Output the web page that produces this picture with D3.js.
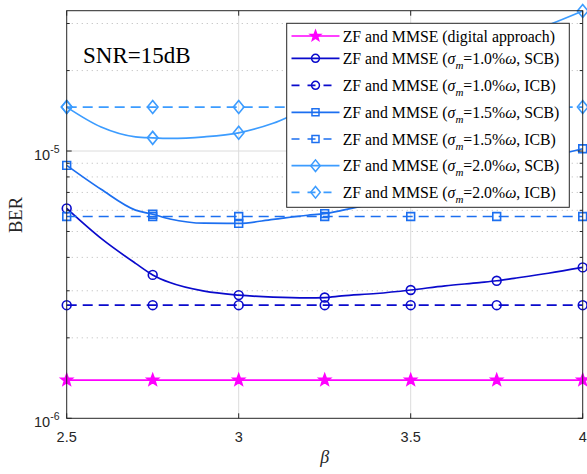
<!DOCTYPE html>
<html><head><meta charset="utf-8">
<script src="https://cdn.jsdelivr.net/npm/d3@7"></script>
<style>body{margin:0;background:#fff}svg{display:block}</style>
</head><body>
<svg id="c" width="587" height="474"></svg>
<script>
// ---- data ----
const xTicks = [2.5, 3, 3.5, 4];
const markerBeta = [2.5, 2.75, 3, 3.25, 3.5, 3.75, 4];
const curveBeta = [2.5, 2.6, 2.7, 2.75, 2.8, 2.9, 3.0, 3.1, 3.2, 3.25, 3.3, 3.4, 3.5, 3.6, 3.7, 3.75, 3.8, 3.9, 4.0];
const digital = [1.39e-6, 1.39e-6, 1.39e-6, 1.39e-6, 1.39e-6, 1.39e-6, 1.39e-6];
const icb10 = [2.65e-6, 2.65e-6, 2.65e-6, 2.65e-6, 2.65e-6, 2.65e-6, 2.65e-6];
const icb15 = [5.69e-6, 5.69e-6, 5.69e-6, 5.69e-6, 5.69e-6, 5.69e-6, 5.69e-6];
const icb20 = [1.46e-5, 1.46e-5, 1.46e-5, 1.46e-5, 1.46e-5, 1.46e-5, 1.46e-5];
const scb10 = [6.10e-6, 4.71e-6, 3.80e-6, 3.44e-6, 3.22e-6, 2.99e-6, 2.89e-6, 2.84e-6, 2.82e-6, 2.83e-6, 2.87e-6, 2.93e-6, 3.02e-6, 3.13e-6, 3.22e-6, 3.27e-6, 3.34e-6, 3.49e-6, 3.67e-6];
const scb15 = [8.84e-6, 7.19e-6, 6.01e-6, 5.80e-6, 5.57e-6, 5.37e-6, 5.36e-6, 5.55e-6, 5.75e-6, 5.83e-6, 6.0e-6, 6.4e-6, 6.95e-6, 7.5e-6, 8.1e-6, 8.45e-6, 8.8e-6, 9.5e-6, 1.02e-5];
const scb20 = [1.46e-5, 1.23e-5, 1.13e-5, 1.12e-5, 1.115e-5, 1.13e-5, 1.17e-5, 1.27e-5, 1.44e-5, 1.51e-5, 1.59e-5, 1.76e-5, 1.95e-5, 2.16e-5, 2.40e-5, 2.52e-5, 2.66e-5, 2.96e-5, 3.34e-5];
const yMajor = [1e-6, 1e-5];
const yMinor = [2e-6, 3e-6, 4e-6, 5e-6, 6e-6, 7e-6, 8e-6, 9e-6, 2e-5, 3e-5];

const series = [
  {beta: markerBeta, y: digital, color: "#ff00ff", dash: null, marker: "star", label: ["digital"]},
  {beta: curveBeta, y: scb10, color: "#0a0acc", dash: null, marker: "circle", label: ["1.0", "SCB"]},
  {beta: markerBeta, y: icb10, color: "#0a0acc", dash: "10,6", marker: "circle", label: ["1.0", "ICB"]},
  {beta: curveBeta, y: scb15, color: "#1c6ff0", dash: null, marker: "square", label: ["1.5", "SCB"]},
  {beta: markerBeta, y: icb15, color: "#1c6ff0", dash: "10,6", marker: "square", label: ["1.5", "ICB"]},
  {beta: curveBeta, y: scb20, color: "#3c9cff", dash: null, marker: "diamond", label: ["2.0", "SCB"]},
  {beta: markerBeta, y: icb20, color: "#3c9cff", dash: "10,6", marker: "diamond", label: ["2.0", "ICB"]}
];

// ---- layout ----
const L = 66.7, R = 582.7, T = 10.7, B = 418.3;
const x = d3.scaleLinear().domain([2.5, 4]).range([L, R]);
const y = d3.scaleLog().domain([1e-6, 3.35e-5]).range([B, T]);
const svg = d3.select("#c");
const axisCol = "#262626";

// grid
const g = svg.append("g");
g.selectAll("line.gx").data(xTicks.slice(1, -1)).join("line")
  .attr("x1", d => x(d)).attr("x2", d => x(d)).attr("y1", T).attr("y2", B)
  .attr("stroke", "#dcdcdc").attr("stroke-width", 1);
g.selectAll("line.gmin").data(yMinor).join("line")
  .attr("x1", L).attr("x2", R).attr("y1", d => y(d)).attr("y2", d => y(d))
  .attr("stroke", "#c4c4c4").attr("stroke-width", 1).attr("stroke-dasharray", "1.2,3.8");
g.selectAll("line.gmaj").data([1e-5]).join("line")
  .attr("x1", L).attr("x2", R).attr("y1", d => y(d)).attr("y2", d => y(d))
  .attr("stroke", "#dcdcdc").attr("stroke-width", 1);

// marker shapes
function markerPath(type, s) {
  if (type === "circle") return d3.symbol(d3.symbolCircle, Math.PI * (4.4*s) * (4.4*s))();
  if (type === "square") { const h = 3.9*s; return `M${-h},${-h}H${h}V${h}H${-h}Z`; }
  if (type === "diamond") { const w = 5.3*s, h = 6.5*s; return `M0,${-h}L${w},0L0,${h}L${-w},0Z`; }
  if (type === "star") {
    const ro = 6*s, ri = 2.5*s; let p = "";
    for (let i = 0; i < 10; i++) {
      const r = i % 2 ? ri : ro, a = -Math.PI/2 + i*Math.PI/5;
      p += (i ? "L" : "M") + (r*Math.cos(a)).toFixed(2) + "," + (r*Math.sin(a)).toFixed(2);
    }
    return p + "Z";
  }
}

// lines
const line = d3.line().x(d => x(d[0])).y(d => y(d[1])).curve(d3.curveMonotoneX);
const lg = svg.append("g");
series.forEach(s => {
  const pts = s.beta.map((b, i) => [b, s.y[i]]);
  lg.append("path").attr("d", line(pts)).attr("fill", "none")
    .attr("stroke", s.color).attr("stroke-width", 1.7)
    .attr("stroke-dasharray", s.dash);
  const mk = pts.filter(p => Math.abs(p[0]*4 - Math.round(p[0]*4)) < 1e-9);
  lg.selectAll(null).data(mk).join("path")
    .attr("transform", d => `translate(${x(d[0])},${y(d[1])})`)
    .attr("d", markerPath(s.marker, 1))
    .attr("fill", s.marker === "star" ? s.color : "none")
    .attr("stroke", s.color).attr("stroke-width", 1.6);
});

// axes box and ticks
const ax = svg.append("g");
ax.append("rect").attr("x", L).attr("y", T).attr("width", R - L).attr("height", B - T)
  .attr("fill", "none").attr("stroke", axisCol).attr("stroke-width", 1);
xTicks.forEach(t => {
  ax.append("line").attr("x1", x(t)).attr("x2", x(t)).attr("y1", B).attr("y2", B - 5).attr("stroke", axisCol);
  ax.append("line").attr("x1", x(t)).attr("x2", x(t)).attr("y1", T).attr("y2", T + 5).attr("stroke", axisCol);
  ax.append("text").attr("x", x(t)).attr("y", 441.5).attr("text-anchor", "middle")
    .attr("font-family", "Liberation Sans, Arial, sans-serif").attr("font-size", 14.5)
    .attr("fill", axisCol).text(t);
});
yMajor.forEach(t => {
  ax.append("line").attr("x1", L).attr("x2", L + 5).attr("y1", y(t)).attr("y2", y(t)).attr("stroke", axisCol);
  ax.append("line").attr("x1", R).attr("x2", R - 5).attr("y1", y(t)).attr("y2", y(t)).attr("stroke", axisCol);
  const tx = ax.append("text").attr("x", 59.5).attr("y", y(t) + 8.5).attr("text-anchor", "end")
    .attr("font-family", "Liberation Sans, Arial, sans-serif").attr("font-size", 14.5).attr("fill", axisCol);
  tx.append("tspan").text("10");
  tx.append("tspan").attr("dy", -7).attr("font-size", 10.5).text(String(Math.round(Math.log10(t))));
});
yMinor.forEach(t => {
  ax.append("line").attr("x1", L).attr("x2", L + 3).attr("y1", y(t)).attr("y2", y(t)).attr("stroke", axisCol);
  ax.append("line").attr("x1", R).attr("x2", R - 3).attr("y1", y(t)).attr("y2", y(t)).attr("stroke", axisCol);
});

// axis labels
svg.append("text").attr("transform", `translate(21.5,215) rotate(-90)`).attr("text-anchor", "middle")
  .attr("font-family", "Liberation Serif, Times New Roman, serif").attr("font-size", 18.5)
  .attr("fill", axisCol).text("BER");
svg.append("text").attr("x", x(3.25)).attr("y", 463).attr("text-anchor", "middle")
  .attr("font-family", "Liberation Serif, Times New Roman, serif").attr("font-style", "italic")
  .attr("font-size", 18).attr("fill", axisCol).text("β");

// annotation
svg.append("text").attr("x", 83).attr("y", 63.3)
  .attr("font-family", "Liberation Serif, Times New Roman, serif").attr("font-size", 23)
  .attr("fill", "#000").text("SNR=15dB");

// legend
const leg = svg.append("g");
leg.append("rect").attr("x", 286.7).attr("y", 23.3).attr("width", 282.6).attr("height", 184)
  .attr("fill", "#fff").attr("stroke", axisCol).attr("stroke-width", 1);
const rowY = [36, 58.3, 85.3, 112.3, 139, 165.7, 192.3];
series.forEach((s, i) => {
  const yy = rowY[i];
  leg.append("line").attr("x1", 291.5).attr("x2", 339.5).attr("y1", yy).attr("y2", yy)
    .attr("stroke", s.color).attr("stroke-width", 1.7).attr("stroke-dasharray", s.dash ? "8,8" : null);
  leg.append("path").attr("transform", `translate(315.5,${yy})`).attr("d", markerPath(s.marker, 0.9))
    .attr("fill", s.marker === "star" ? s.color : "none").attr("stroke", s.color).attr("stroke-width", 1.5);
  const t = leg.append("text").attr("x", 342.7).attr("y", yy + 5.5)
    .attr("font-family", "Liberation Serif, Times New Roman, serif").attr("font-size", 15.8).attr("fill", "#000");
  if (s.label[0] === "digital") {
    t.text("ZF and MMSE (digital approach)");
  } else {
    t.append("tspan").text("ZF and MMSE (");
    t.append("tspan").attr("font-style", "italic").text("σ");
    t.append("tspan").attr("font-style", "italic").attr("font-size", 11).attr("dy", 5).text("m");
    t.append("tspan").attr("dy", -5).text("=" + s.label[0] + "%");
    t.append("tspan").attr("font-style", "italic").text("ω");
    t.append("tspan").text(", " + s.label[1] + ")");
  }
});
</script>
</body></html>
